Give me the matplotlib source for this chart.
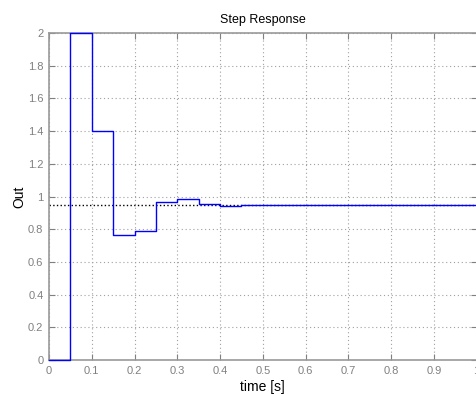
import numpy as np
import matplotlib
matplotlib.use("Agg")
import matplotlib.pyplot as plt

plt.rcParams['font.family'] = ['Liberation Sans', 'DejaVu Sans']

# sampled step response (zero-order hold, Ts = 0.05 s)
t = [0.0, 0.05, 0.10, 0.15, 0.20, 0.25, 0.30, 0.35, 0.40, 0.45,
     0.50, 0.55, 0.60, 0.65, 0.70, 0.75, 0.80, 0.85, 0.90, 0.95, 1.00]
out = [0.0, 2.0, 1.4, 0.766, 0.791, 0.964, 0.985, 0.952, 0.939, 0.945,
       0.949, 0.949, 0.945, 0.945, 0.945, 0.945, 0.945, 0.945, 0.945, 0.945, 0.945]
final_value = 0.945

xticks = [0, 0.1, 0.2, 0.3, 0.4, 0.5, 0.6, 0.7, 0.8, 0.9, 1]
yticks = [0, 0.2, 0.4, 0.6, 0.8, 1, 1.2, 1.4, 1.6, 1.8, 2]

fig = plt.figure(figsize=(4.76, 3.94), dpi=100)
ax = fig.add_axes([0.1029, 0.0863, 0.8985, 0.8299])

ax.axhline(final_value, color='black', linestyle=':', linewidth=1.0, zorder=2)
ax.step(t, out, where='post', color='#0000ff', linewidth=1.0, zorder=3, clip_on=False)

ax.set_xlim(0, 1)
ax.set_ylim(0, 2)
ax.set_xticks(xticks)
ax.set_yticks(yticks)
ax.set_xticklabels(['0', '0.1', '0.2', '0.3', '0.4', '0.5', '0.6', '0.7', '0.8', '0.9', '1'])
ax.set_yticklabels(['0', '0.2', '0.4', '0.6', '0.8', '1', '1.2', '1.4', '1.6', '1.8', '2'])

ax.grid(True, color='#a0a0a0', linestyle=(0, (1, 2.5)), linewidth=0.8)
ax.tick_params(direction='in', length=4, width=0.8, colors='#808080',
               top=True, right=True, labelsize=8, labelcolor='#808080', pad=4)
for s in ax.spines.values():
    s.set_color('#999999')
    s.set_linewidth(1.2)

ax.set_title('Step Response', fontsize=9, pad=7)
ax.set_xlabel('time [s]', fontsize=10, labelpad=3)
ax.set_ylabel('Out', fontsize=10, labelpad=1)

fig.savefig('out.png', dpi=100)
